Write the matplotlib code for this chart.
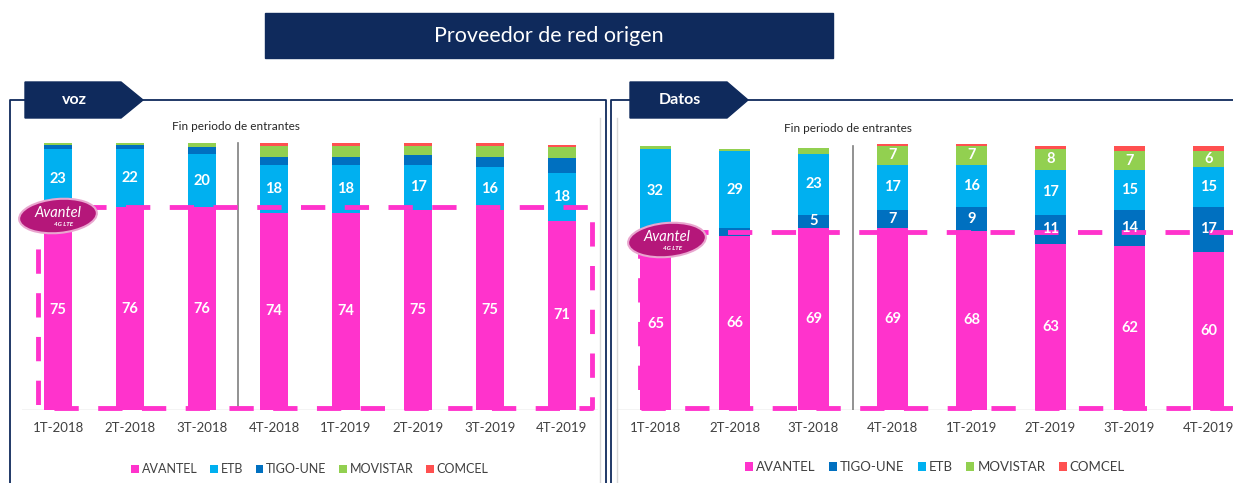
import matplotlib
matplotlib.use("Agg")
import matplotlib.pyplot as plt
from matplotlib.patches import Polygon, Rectangle, Ellipse

plt.rcParams['font.family'] = ['Lato', 'DejaVu Sans']

periodos = ['1T-2018', '2T-2018', '3T-2018', '4T-2018',
            '1T-2019', '2T-2019', '3T-2019', '4T-2019']

# voz (orden de apilado: AVANTEL, ETB, TIGO-UNE, MOVISTAR, COMCEL)
voz_avantel = [75, 76, 76, 74, 74, 75, 75, 71]
voz_etb = [23, 22, 20, 18, 18, 17, 16, 18]
voz_tigo = [1.2, 1.5, 2.5, 3, 3, 3.5, 4, 5.5]
voz_movistar = [0.8, 0.5, 1.5, 4, 4, 3.5, 4, 4]
voz_comcel = [0, 0, 0, 1, 1, 1, 1, 1]

# datos (orden de apilado: AVANTEL, TIGO-UNE, ETB, MOVISTAR, COMCEL)
datos_avantel = [65, 66, 69, 69, 68, 63, 62, 60]
datos_tigo = [2, 3, 5, 7, 9, 11, 14, 17]
datos_etb = [32, 29, 23, 17, 16, 17, 15, 15]
datos_movistar = [1, 1, 2.5, 7, 7, 8, 7, 6]
datos_comcel = [0, 0, 0, 1, 1, 1, 2, 2]

colores = {'AVANTEL': '#ff33cc', 'ETB': '#00b0f0', 'TIGO-UNE': '#0070c0',
           'MOVISTAR': '#92d050', 'COMCEL': '#ff5050'}
navy = '#0f2a5c'
W, H = 1233, 483


def px_axes(fig, left, top, width, height):
    return fig.add_axes([left / W, 1 - (top + height) / H, width / W, height / H])


def stacked(ax, series, labelled, width, guide_y, guide_x):
    bottom = [0] * len(periodos)
    x = range(len(periodos))
    handles = []
    for name, vals in series:
        b = ax.bar(x, vals, width, bottom=bottom, color=colores[name],
                   label=name, zorder=2)
        handles.append(b)
        if name in labelled:
            for i, v in enumerate(vals):
                if v >= 5:
                    ax.text(i, bottom[i] + v / 2, f'{v:g}', ha='center',
                            va='center', color='white', fontsize=10.5,
                            fontweight='bold', zorder=4)
        bottom = [b0 + v for b0, v in zip(bottom, vals)]
    ax.set_xlim(-0.5, 7.5)
    ax.set_ylim(0, 105)
    ax.axhline(0, color='#c8c8c8', lw=1, zorder=1)
    ax.plot([2.5, 2.5], [0, 100], color='#7f7f7f', lw=1.2, zorder=1)
    ax.set_xticks(list(x))
    ax.set_xticklabels(periodos, fontsize=9.5, color='#404040')
    ax.tick_params(axis='x', length=0, pad=9)
    ax.set_yticks([])
    for s in ax.spines.values():
        s.set_visible(False)
    ax.patch.set_alpha(0)
    # recuadro punteado AVANTEL
    x0, x1 = guide_x
    ax.plot([x0, x1, x1, x0, x0], [guide_y, guide_y, 0.6, 0.6, guide_y],
            color='#ff33cc', lw=3.5, ls=(0, (5, 4)), zorder=3, clip_on=False)
    return handles


fig = plt.figure(figsize=(W / 100, H / 100), dpi=100)

ax1 = px_axes(fig, 22, 130, 576, 280)
h1 = stacked(ax1, [('AVANTEL', voz_avantel), ('ETB', voz_etb),
                   ('TIGO-UNE', voz_tigo), ('MOVISTAR', voz_movistar),
                   ('COMCEL', voz_comcel)],
             ['AVANTEL', 'ETB'], 0.39, 76, (-0.28, 7.42))
fig.legend(handles=h1, loc='center', bbox_to_anchor=(310 / W, 1 - 469 / H),
           ncol=5, frameon=False, fontsize=9, handlelength=0.6,
           handleheight=0.6, handletextpad=0.25, columnspacing=1.0,
           labelcolor='#404040')

ax2 = px_axes(fig, 616, 133, 632, 277)
h2 = stacked(ax2, [('AVANTEL', datos_avantel), ('TIGO-UNE', datos_tigo),
                   ('ETB', datos_etb), ('MOVISTAR', datos_movistar),
                   ('COMCEL', datos_comcel)],
             ['AVANTEL', 'TIGO-UNE', 'ETB', 'MOVISTAR'], 0.4, 67.5, (-0.2, 7.7))
fig.legend(handles=h2, loc='center', bbox_to_anchor=(935 / W, 1 - 467 / H),
           ncol=5, frameon=False, fontsize=9.5, handlelength=0.6,
           handleheight=0.6, handletextpad=0.25, columnspacing=1.0,
           labelcolor='#404040')

# capa de decoracion en pixeles
deco = fig.add_axes([0, 0, 1, 1], zorder=10)
deco.set_xlim(0, W)
deco.set_ylim(H, 0)
deco.axis('off')
deco.patch.set_alpha(0)

deco.add_patch(Rectangle((265, 13), 568, 45, color=navy))
deco.text(549, 36, 'Proveedor de red origen', color='white', fontsize=15.5,
          ha='center', va='center')

deco.text(236, 127, 'Fin periodo de entrantes', ha='center', va='center',
          fontsize=8.5, color='#262626')
deco.text(848, 129, 'Fin periodo de entrantes', ha='center', va='center',
          fontsize=8.5, color='#262626')

# marcos de paneles
deco.plot([10, 10, 25], [483, 100, 100], color=navy, lw=1.3)
deco.plot([143, 606, 606], [100, 100, 483], color=navy, lw=1.3)
deco.plot([600, 600], [118, 483], color='#d9d9d9', lw=1)
deco.plot([611, 611, 630], [483, 100, 100], color=navy, lw=1.3)
deco.plot([748, 1233], [100, 100], color=navy, lw=1.3)
deco.plot([617, 617], [118, 483], color='#d9d9d9', lw=1)

# pestañas
deco.add_patch(Polygon([(25, 82), (121, 82), (143, 100), (121, 118), (25, 118)],
                       color=navy))
deco.text(74, 100, 'voz', color='white', fontsize=11.5, fontweight='bold',
          ha='center', va='center')
deco.add_patch(Polygon([(630, 82), (727, 82), (748, 100), (727, 118), (630, 118)],
                       color=navy))
deco.text(680, 100, 'Datos', color='white', fontsize=11.5, fontweight='bold',
          ha='center', va='center')

# logos Avantel
for cx, cy in [(58, 216), (667, 240)]:
    deco.add_patch(Ellipse((cx, cy), 78, 34, angle=-5, facecolor='#b5177a',
                           edgecolor='#e9a6cf', lw=1.5))
    deco.text(cx, cy - 3, 'Avantel', color='white', fontsize=10.5,
              style='italic', ha='center', va='center')
    deco.text(cx + 6, cy + 9, '4G LTE', color='white', fontsize=4.5,
              style='italic', fontweight='bold', ha='center', va='center')

fig.savefig('out.png', dpi=100)
